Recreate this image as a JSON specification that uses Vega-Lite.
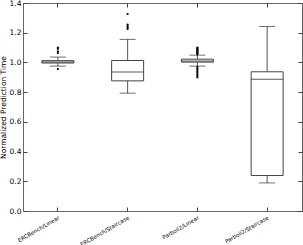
{
  "$schema": "https://vega.github.io/schema/vega-lite/v6.json",
  "width": 279,
  "height": 208,
  "autosize": "none",
  "padding": {"left": 23, "top": 3, "right": 1, "bottom": 34},
  "background": "white",
  "config": {
    "font": "DejaVu Sans",
    "view": {"stroke": "#666", "strokeWidth": 1},
    "axis": {"grid": false, "domainColor": "#666", "tickColor": "#444", "labelColor": "#000", "titleColor": "#000", "labelFont": "DejaVu Sans", "titleFont": "DejaVu Sans", "titleFontWeight": "normal"}
  },
  "datasets": {
    "stats": [
      {"bench": "ERCBench/Linear", "lo": 0.975, "q1": 0.996, "med": 1.003, "q3": 1.012, "hi": 1.036},
      {"bench": "ERCBench/Staircase", "lo": 0.793, "q1": 0.876, "med": 0.936, "q3": 1.013, "hi": 1.155},
      {"bench": "Parboil2/Linear", "lo": 0.975, "q1": 1.002, "med": 1.01, "q3": 1.022, "hi": 1.049},
      {"bench": "Parboil2/Staircase", "lo": 0.189, "q1": 0.239, "med": 0.887, "q3": 0.937, "hi": 1.242}
    ],
    "outliers": [
      {"bench": "ERCBench/Linear", "v": 1.063},
      {"bench": "ERCBench/Linear", "v": 1.074},
      {"bench": "ERCBench/Linear", "v": 1.092},
      {"bench": "ERCBench/Linear", "v": 1.1},
      {"bench": "ERCBench/Linear", "v": 0.955},
      {"bench": "ERCBench/Staircase", "v": 1.225},
      {"bench": "ERCBench/Staircase", "v": 1.235},
      {"bench": "ERCBench/Staircase", "v": 1.245},
      {"bench": "ERCBench/Staircase", "v": 1.255},
      {"bench": "ERCBench/Staircase", "v": 1.326},
      {"bench": "Parboil2/Linear", "v": 1.055},
      {"bench": "Parboil2/Linear", "v": 1.06},
      {"bench": "Parboil2/Linear", "v": 1.065},
      {"bench": "Parboil2/Linear", "v": 1.07},
      {"bench": "Parboil2/Linear", "v": 1.075},
      {"bench": "Parboil2/Linear", "v": 1.08},
      {"bench": "Parboil2/Linear", "v": 1.085},
      {"bench": "Parboil2/Linear", "v": 1.09},
      {"bench": "Parboil2/Linear", "v": 1.095},
      {"bench": "Parboil2/Linear", "v": 1.1},
      {"bench": "Parboil2/Linear", "v": 0.97},
      {"bench": "Parboil2/Linear", "v": 0.96},
      {"bench": "Parboil2/Linear", "v": 0.95},
      {"bench": "Parboil2/Linear", "v": 0.94},
      {"bench": "Parboil2/Linear", "v": 0.93},
      {"bench": "Parboil2/Linear", "v": 0.92},
      {"bench": "Parboil2/Linear", "v": 0.91},
      {"bench": "Parboil2/Linear", "v": 0.9}
    ]
  },
  "resolve": {"axis": {"x": "independent", "y": "independent"}},
  "layer": [
    {
      "data": {"name": "stats"},
      "mark": {"type": "bar", "fill": "white", "stroke": "#444", "strokeWidth": 1, "width": 32},
      "encoding": {
        "x": {"field": "bench", "type": "nominal", "sort": null, "scale": {"paddingInner": 0, "paddingOuter": 0},
          "axis": {"title": null, "labelAngle": -30, "labelAlign": "right", "labelBaseline": "top", "labelFontSize": 5.5, "tickSize": -4, "labelPadding": 8, "domain": false}},
        "y": {"field": "q1", "type": "quantitative", "scale": {"domain": [0, 1.4], "nice": false, "zero": false},
          "axis": {"title": "Normalized Prediction Time", "titleFontSize": 7.5, "labelFontSize": 7.5, "values": [0, 0.2, 0.4, 0.6, 0.8, 1.0, 1.2, 1.4], "format": ".1f", "tickSize": -4, "labelPadding": 6, "titlePadding": 2, "domain": false}},
        "y2": {"field": "q3"}
      }
    },
    {
      "data": {"name": "stats"},
      "mark": {"type": "rule", "stroke": "#555", "strokeWidth": 1},
      "encoding": {
        "x": {"field": "bench", "type": "nominal", "sort": null, "axis": {"orient": "top", "labels": false, "title": null, "tickSize": -4, "domain": false}},
        "y": {"field": "q3", "type": "quantitative", "axis": {"orient": "right", "labels": false, "title": null, "values": [0, 0.2, 0.4, 0.6, 0.8, 1.0, 1.2, 1.4], "tickSize": -4, "domain": false}},
        "y2": {"field": "hi"}
      }
    },
    {
      "data": {"name": "stats"},
      "mark": {"type": "rule", "stroke": "#555", "strokeWidth": 1},
      "encoding": {
        "x": {"field": "bench", "type": "nominal", "sort": null, "axis": null},
        "y": {"field": "lo", "type": "quantitative", "axis": null},
        "y2": {"field": "q1"}
      }
    },
    {
      "data": {"name": "stats"},
      "mark": {"type": "tick", "color": "#333", "size": 16, "thickness": 1, "orient": "horizontal"},
      "encoding": {
        "x": {"field": "bench", "type": "nominal", "sort": null, "axis": null},
        "y": {"field": "hi", "type": "quantitative", "axis": null}
      }
    },
    {
      "data": {"name": "stats"},
      "mark": {"type": "tick", "color": "#333", "size": 16, "thickness": 1, "orient": "horizontal"},
      "encoding": {
        "x": {"field": "bench", "type": "nominal", "sort": null, "axis": null},
        "y": {"field": "lo", "type": "quantitative", "axis": null}
      }
    },
    {
      "data": {"name": "stats"},
      "mark": {"type": "tick", "color": "#111", "size": 32, "thickness": 1, "orient": "horizontal"},
      "encoding": {
        "x": {"field": "bench", "type": "nominal", "sort": null, "axis": null},
        "y": {"field": "med", "type": "quantitative", "axis": null}
      }
    },
    {
      "data": {"name": "outliers"},
      "mark": {"type": "point", "filled": true, "color": "#000", "size": 5, "opacity": 1},
      "encoding": {
        "x": {"field": "bench", "type": "nominal", "sort": null, "axis": null},
        "y": {"field": "v", "type": "quantitative", "axis": null}
      }
    }
  ]
}
